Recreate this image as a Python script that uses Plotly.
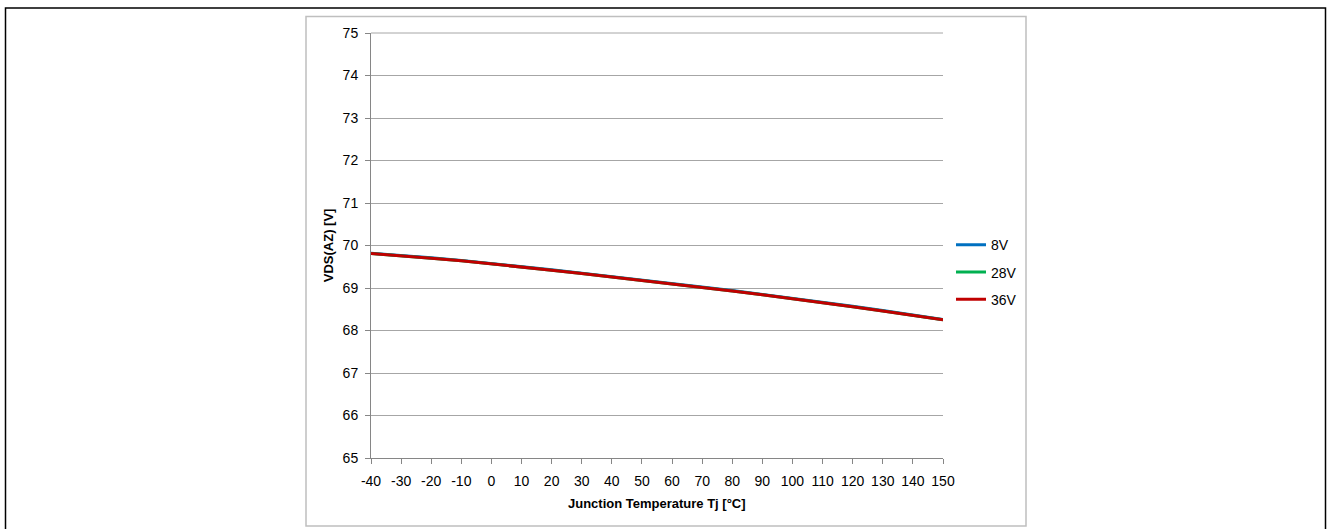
import plotly.graph_objects as go

temps = [-40, -30, -20, -10, 0, 10, 20, 30, 40, 50, 60, 70, 80, 90, 100, 110, 120, 130, 140, 150]
v_8V = [69.82, 69.77, 69.71, 69.65, 69.58, 69.51, 69.43, 69.35, 69.27, 69.19, 69.11, 69.03, 68.94, 68.85, 68.76, 68.67, 68.57, 68.47, 68.37, 68.26]
v_28V = [69.81, 69.76, 69.70, 69.64, 69.57, 69.50, 69.42, 69.34, 69.26, 69.18, 69.10, 69.02, 68.93, 68.84, 68.75, 68.66, 68.56, 68.46, 68.36, 68.25]
v_36V = [69.81, 69.76, 69.70, 69.64, 69.57, 69.50, 69.42, 69.34, 69.26, 69.18, 69.10, 69.02, 68.93, 68.84, 68.75, 68.66, 68.56, 68.46, 68.36, 68.25]
series_names = ["8V", "28V", "36V"]
series_colors = ["#0070C0", "#00B050", "#C00000"]
x_ticks = list(range(-40, 151, 10))
x_tick_labels = [str(t) for t in x_ticks]
y_ticks = list(range(65, 76))
y_tick_labels = [str(t) for t in y_ticks]

W, H = 1330, 529
L, R, T, B = 371, 943, 32.5, 458  # plot area pixels
FONT = "Liberation Sans"

def px(x):
    return (x - L) / (R - L)

def py(y):
    return (B - y) / (B - T)

fig = go.Figure()
for name, vals, col in zip(series_names, [v_8V, v_28V, v_36V], series_colors):
    fig.add_trace(go.Scatter(x=temps, y=vals, mode="lines", name=name,
                             legendgroup=name,
                             line=dict(color=col, width=3)))

fig.update_layout(
    width=W, height=H,
    margin=dict(l=L, r=W - R, t=T, b=H - B, pad=0),
    paper_bgcolor="white", plot_bgcolor="white",
    font=dict(family=FONT, size=14, color="#000000"),
    showlegend=True,
    legend=dict(x=px(951), y=py(229), xanchor="left", yanchor="top",
                font=dict(family=FONT, size=14, color="#000000"),
                itemwidth=30, tracegroupgap=6, bgcolor="rgba(0,0,0,0)"),
    xaxis=dict(range=[-40, 150], tickvals=x_ticks, ticktext=x_tick_labels,
               showgrid=False,
               showline=True, linecolor="#868686", linewidth=1,
               ticks="outside", ticklen=5, tickcolor="#868686",
               ticklabelstandoff=5,
               zeroline=False, tickfont=dict(size=14)),
    yaxis=dict(range=[65, 75], tickvals=y_ticks, ticktext=y_tick_labels,
               showgrid=True, gridcolor="#A6A6A6", gridwidth=1,
               showline=True, linecolor="#868686", linewidth=1,
               ticks="outside", ticklen=5, tickcolor="#868686",
               ticklabelstandoff=4,
               zeroline=False, tickfont=dict(size=14)),
)

fig.add_annotation(text="<b>Junction Temperature Tj [°C]</b>", xref="paper", yref="paper",
                   x=0.5, y=py(504), xanchor="center", yanchor="middle",
                   showarrow=False, font=dict(family=FONT, size=13))
fig.add_annotation(text="<b>VDS(AZ) [V]</b>", xref="paper", yref="paper",
                   x=px(328), y=py(245), xanchor="center", yanchor="middle",
                   textangle=-90, showarrow=False, font=dict(family=FONT, size=13))

# top gridline at range edge
fig.add_shape(type="line", xref="paper", yref="paper", x0=0, x1=1, y0=1, y1=1,
              line=dict(color="#A6A6A6", width=1), layer="below")
# inner chart frame
fig.add_shape(type="rect", xref="paper", yref="paper",
              x0=px(306), x1=px(1026), y0=py(526), y1=py(16),
              line=dict(color="#BFBFBF", width=1.5), layer="below")
# outer page frame
fig.add_shape(type="rect", xref="paper", yref="paper",
              x0=px(5.5), x1=px(1325.5), y0=py(545), y1=py(7.5),
              line=dict(color="#000000", width=1.5), layer="below")

fig.write_html("out.html", config={"displayModeBar": False},
               post_script="document.body.style.margin='0px';")
